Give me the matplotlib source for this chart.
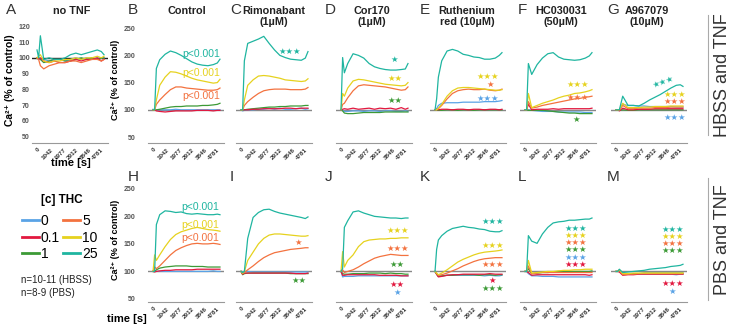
# THC concentration series, Ca2+ response (% of control), HBSS vs PBS with TNF
import matplotlib
matplotlib.use('Agg')
import matplotlib.pyplot as plt
import numpy as np

plt.rcParams['font.family'] = ['Liberation Sans', 'DejaVu Sans']

# time points (s)
time_s = [0, 120, 250, 500, 900, 1300, 1700, 2100, 2500, 2900, 3300, 3700, 4100, 4500, 4800, 5000]
tick_pos = [0, 1042, 1977, 2912, 3846, 4781]
tick_labels = ['0', '1042', '1977', '2912', '3846', '4781']

conc_labels = ['0', '0.1', '1', '5', '10', '25']
conc_colors = ['#5aa3e6', '#e2183f', '#3c9a36', '#f3723f', '#e6d21e', '#1fb5a0']

# rows in each panel: 0, 0.1, 1, 5, 10, 25 uM THC
no_tnf = [
    [100, 100, 99, 99, 98, 99, 99, 98, 99, 100, 99, 100, 99, 100, 100, 100],
    [100, 99, 100, 98, 97, 98, 97, 97, 98, 99, 98, 99, 99, 100, 98, 99],
    [100, 100, 99, 97, 98, 99, 99, 98, 98, 99, 100, 99, 100, 99, 100, 100],
    [100, 99, 95, 93, 95, 96, 97, 97, 98, 98, 97, 98, 99, 99, 98, 99],
    [100, 101, 102, 98, 97, 98, 98, 99, 99, 100, 99, 100, 100, 101, 100, 101],
    [105, 100, 114, 99, 100, 99, 99, 100, 102, 103, 102, 103, 104, 105, 104, 102],
]
hbss_control = [
    [101, 100, 99, 100, 100, 100, 101, 100, 100, 100, 100, 100, 100, 100, 100, 100],
    [100, 100, 98, 97, 96, 97, 98, 98, 98, 98, 99, 99, 99, 98, 99, 99],
    [100, 100, 100, 101, 103, 105, 106, 106, 107, 107, 107, 108, 108, 109, 110, 112],
    [100, 100, 110, 118, 128, 137, 142, 142, 140, 139, 138, 137, 136, 136, 137, 140],
    [100, 100, 118, 145, 160, 170, 169, 166, 162, 158, 155, 153, 151, 149, 150, 156],
    [100, 100, 176, 192, 202, 208, 205, 200, 194, 188, 184, 182, 181, 183, 186, 193],
]
hbss_rimonabant = [
    [100, 98, 99, 100, 100, 101, 101, 103, 101, 103, 101, 101, 102, 103, 101, 102],
    [100, 100, 100, 100, 101, 101, 102, 102, 102, 102, 103, 103, 102, 103, 103, 103],
    [100, 100, 100, 101, 102, 103, 104, 105, 105, 106, 106, 107, 107, 107, 108, 108],
    [100, 100, 108, 115, 123, 130, 135, 137, 138, 138, 138, 137, 137, 137, 138, 141],
    [100, 100, 118, 145, 155, 162, 163, 162, 160, 158, 155, 154, 153, 152, 153, 157],
    [100, 100, 190, 222, 226, 230, 235, 222, 210, 200, 196, 193, 192, 191, 195, 207],
]
hbss_cor170 = [
    [100, 99, 97, 97, 98, 98, 97, 98, 98, 97, 98, 98, 97, 97, 98, 97],
    [100, 101, 102, 101, 103, 101, 102, 103, 101, 103, 102, 103, 101, 104, 101, 103],
    [100, 98, 94, 93, 93, 94, 95, 95, 95, 95, 96, 96, 96, 96, 96, 96],
    [100, 110, 112, 122, 135, 144, 146, 145, 144, 143, 142, 140, 138, 136, 137, 142],
    [100, 130, 125, 140, 153, 156, 155, 153, 151, 149, 147, 146, 145, 144, 145, 150],
    [100, 196, 168, 185, 203, 200, 195, 185, 179, 176, 174, 173, 173, 174, 175, 185],
]
hbss_ruthenium = [
    [100, 102, 108, 112, 113, 113, 113, 114, 114, 114, 114, 115, 115, 115, 116, 117],
    [100, 101, 100, 101, 101, 100, 101, 101, 100, 101, 101, 100, 101, 101, 100, 101],
    [100, 100, 99, 99, 100, 100, 99, 100, 100, 99, 100, 100, 100, 100, 100, 100],
    [100, 100, 102, 108, 120, 130, 135, 137, 138, 137, 137, 138, 136, 135, 136, 138],
    [100, 100, 103, 110, 125, 135, 140, 141, 141, 140, 139, 138, 137, 136, 136, 137],
    [100, 120, 160, 190, 208, 211, 208, 202, 200, 197, 196, 193, 193, 195, 200, 205],
]
hbss_hc030031 = [
    [100, 100, 100, 99, 98, 97, 97, 97, 96, 96, 96, 96, 96, 95, 95, 95],
    [100, 100, 110, 100, 101, 101, 101, 102, 101, 102, 102, 102, 102, 102, 102, 103],
    [100, 100, 99, 99, 99, 99, 98, 97, 96, 95, 94, 94, 93, 93, 93, 93],
    [100, 100, 115, 103, 105, 108, 110, 112, 114, 116, 118, 120, 121, 123, 124, 125],
    [100, 100, 130, 104, 108, 112, 115, 118, 122, 125, 127, 130, 131, 133, 135, 137],
    [100, 100, 185, 165, 183, 195, 203, 205, 197, 193, 192, 191, 192, 195, 199, 205],
]
hbss_a967079 = [
    [100, 100, 100, 110, 108, 108, 107, 107, 106, 106, 106, 106, 106, 105, 105, 105],
    [100, 100, 98, 103, 100, 100, 101, 101, 101, 102, 102, 102, 102, 102, 102, 102],
    [100, 100, 99, 100, 99, 99, 100, 100, 100, 100, 100, 100, 100, 100, 100, 100],
    [100, 100, 100, 108, 102, 102, 103, 103, 103, 104, 104, 104, 105, 105, 105, 105],
    [100, 100, 100, 112, 104, 104, 104, 105, 105, 106, 106, 106, 107, 107, 107, 107],
    [100, 100, 100, 125, 108, 108, 107, 112, 118, 123, 128, 134, 140, 145, 146, 143],
]
pbs_control = [
    [100, 100, 100, 100, 100, 100, 100, 100, 100, 100, 100, 100, 100, 101, 100, 100],
    [100, 99, 100, 101, 102, 102, 103, 103, 103, 103, 104, 104, 104, 104, 104, 104],
    [100, 100, 103, 106, 108, 109, 110, 110, 110, 109, 109, 109, 108, 108, 108, 108],
    [100, 108, 105, 110, 120, 130, 138, 143, 147, 150, 151, 150, 150, 151, 150, 149],
    [100, 130, 120, 130, 145, 158, 167, 172, 175, 178, 180, 178, 176, 175, 174, 173],
    [100, 100, 185, 203, 210, 209, 207, 208, 205, 204, 205, 204, 203, 203, 204, 203],
]
pbs_rimonabant = [
    [100, 99, 100, 100, 99, 99, 99, 99, 99, 99, 99, 99, 99, 99, 99, 99],
    [100, 95, 97, 97, 97, 97, 97, 97, 97, 97, 97, 97, 96, 96, 96, 97],
    [100, 94, 96, 97, 97, 97, 97, 97, 97, 97, 97, 96, 96, 96, 96, 96],
    [100, 96, 98, 103, 110, 118, 125, 130, 134, 136, 138, 140, 141, 142, 143, 143],
    [100, 97, 100, 120, 135, 150, 160, 166, 168, 168, 167, 166, 165, 164, 164, 165],
    [100, 98, 100, 160, 198, 207, 212, 213, 209, 206, 204, 202, 200, 198, 196, 199],
]
pbs_cor170 = [
    [100, 90, 91, 91, 91, 92, 92, 92, 92, 92, 92, 92, 92, 92, 92, 92],
    [100, 93, 93, 94, 94, 94, 94, 94, 94, 93, 93, 93, 93, 92, 92, 92],
    [100, 96, 95, 95, 96, 96, 96, 97, 97, 97, 96, 97, 96, 96, 95, 95],
    [100, 103, 98, 100, 103, 108, 114, 119, 124, 127, 129, 131, 130, 129, 129, 129],
    [100, 136, 108, 120, 130, 145, 154, 157, 158, 159, 159, 160, 160, 161, 161, 161],
    [100, 105, 180, 192, 208, 210, 206, 203, 200, 199, 198, 197, 197, 196, 197, 197],
]
pbs_ruthenium = [
    [100, 95, 91, 92, 93, 93, 93, 93, 93, 93, 93, 92, 93, 92, 92, 93],
    [100, 95, 90, 91, 93, 94, 94, 95, 95, 95, 95, 95, 96, 95, 95, 95],
    [100, 95, 91, 92, 93, 93, 94, 94, 94, 94, 93, 94, 94, 93, 94, 94],
    [100, 96, 93, 94, 97, 101, 105, 110, 114, 118, 121, 123, 124, 125, 125, 125],
    [100, 97, 94, 97, 103, 110, 117, 122, 126, 130, 133, 135, 136, 137, 138, 139],
    [100, 140, 157, 165, 173, 178, 180, 182, 180, 179, 177, 176, 173, 172, 172, 174],
]
pbs_hc030031 = [
    [100, 100, 96, 92, 92, 91, 91, 91, 90, 90, 90, 90, 90, 90, 90, 90],
    [100, 100, 98, 93, 94, 94, 94, 94, 94, 94, 94, 94, 94, 94, 93, 94],
    [100, 100, 105, 96, 97, 98, 98, 99, 100, 100, 100, 100, 100, 100, 100, 101],
    [100, 100, 110, 96, 97, 98, 98, 98, 98, 98, 98, 98, 98, 98, 98, 98],
    [100, 100, 120, 97, 98, 99, 100, 100, 101, 102, 102, 103, 103, 104, 104, 104],
    [100, 100, 165, 155, 151, 168, 180, 188, 190, 191, 193, 193, 194, 195, 195, 197],
]
pbs_a967079 = [
    [100, 100, 100, 95, 95, 95, 95, 95, 95, 95, 95, 95, 95, 94, 95, 95],
    [100, 100, 99, 93, 94, 94, 95, 95, 95, 95, 95, 95, 95, 95, 95, 95],
    [100, 100, 101, 95, 96, 96, 96, 97, 97, 97, 97, 97, 97, 97, 97, 97],
    [100, 100, 102, 94, 95, 95, 96, 96, 96, 96, 96, 96, 96, 96, 96, 96],
    [100, 100, 103, 96, 96, 97, 97, 97, 97, 97, 97, 97, 97, 97, 97, 97],
    [100, 100, 104, 98, 99, 100, 101, 102, 104, 105, 106, 107, 109, 110, 111, 113],
]

# significance labels: (text, concentration index, time, value)
notes_b = [('p<0.001', 5, 3600, 203), ('p<0.001', 4, 3600, 167), ('p<0.001', 3, 3600, 125)]
notes_c = [('★★★', 5, 3600, 208)]
notes_d = [('★', 5, 4000, 192), ('★★', 4, 4000, 157), ('★★', 2, 4000, 117)]
notes_e = [('★★★', 4, 3900, 161), ('★', 3, 4100, 146), ('★★★', 0, 3900, 120)]
notes_f = [('★★★', 4, 3900, 146), ('★★★', 3, 3900, 123), ('★', 2, 3800, 83)]
notes_g = [('★★★', 5, 3500, 151), ('★★★', 4, 4400, 129), ('★★★', 3, 4400, 116), ('★★★', 0, 4400, 86)]
notes_h = [('p<0.001', 5, 3500, 217), ('p<0.001', 4, 3500, 185), ('p<0.001', 3, 3500, 161)]
notes_i = [('★', 3, 4300, 153), ('★★', 2, 4300, 84)]
notes_j = [('★★★', 4, 4200, 174), ('★★★', 3, 4200, 142), ('★★', 2, 4200, 112),
           ('★★', 1, 4200, 76), ('★', 0, 4200, 62)]
notes_k = [('★★★', 5, 4300, 190), ('★★★', 4, 4300, 148), ('★★★', 3, 4300, 112),
           ('★', 1, 4300, 83), ('★★★', 2, 4300, 69)]
notes_l = [('★★★', 5, 3800, 178), ('★★★', 4, 3800, 165), ('★★★', 3, 3800, 152),
           ('★★★', 2, 3800, 139), ('★★★', 0, 3800, 126), ('★★★', 1, 3800, 113)]
notes_m = [('★★★', 5, 4200, 177), ('★★★', 4, 4200, 164), ('★★★', 3, 4200, 151),
           ('★★★', 2, 4200, 138), ('★★★', 1, 4200, 78), ('★', 0, 4200, 64)]

top_titles = ['no TNF', 'Control', 'Rimonabant\n(1µM)', 'Cor170\n(1µM)',
              'Ruthenium\nred (10µM)', 'HC030031\n(50µM)', 'A967079\n(10µM)']

W, H = 735.0, 331.0
fig = plt.figure(figsize=(7.35, 3.31), dpi=100)


def px_axes(left, top, width, height):
    return fig.add_axes([left / W, 1 - (top + height) / H, width / W, height / H])


def draw_panel(ax, data, notes, ylim, yticks=None, ypad=2, ref_color='#888888'):
    t = np.array(time_s)
    ax.axhline(100, color=ref_color, lw=1.0, zorder=1)
    for i in [0, 2, 1, 3, 4, 5]:
        ax.plot(t, data[i], color=conc_colors[i], lw=0.9, zorder=2)
    for text, ci, x, y in notes:
        if text.startswith('p'):
            ax.text(x, y, text, color=conc_colors[ci], fontsize=7.5,
                    ha='center', va='center')
        else:
            rot = 20 if (notes is notes_g and ci == 5) else 0
            ax.text(x, y, text, color=conc_colors[ci], fontsize=6, ha='center',
                    va='center', family='DejaVu Sans', rotation=rot)
    ax.set_xlim(-375, 5300)
    ax.set_ylim(*ylim)
    for s in ['top', 'right', 'left']:
        ax.spines[s].set_visible(False)
    ax.spines['bottom'].set_color('#999999')
    ax.spines['bottom'].set_linewidth(0.8)
    ax.set_xticks(tick_pos)
    ax.set_xticklabels(tick_labels, rotation=45, ha='right', rotation_mode='anchor',
                       fontsize=4.5, fontweight='bold', color='#333333')
    ax.tick_params(axis='x', length=0, pad=3)
    if yticks is None:
        ax.set_yticks([])
    else:
        ax.set_yticks(yticks)
        ax.set_yticklabels([str(v) for v in yticks], fontsize=5, fontweight='bold',
                           color='#555555')
        ax.tick_params(axis='y', length=0, pad=ypad)
    ax.patch.set_alpha(0)


top_data = [no_tnf, hbss_control, hbss_rimonabant, hbss_cor170, hbss_ruthenium,
            hbss_hc030031, hbss_a967079]
top_notes = [[], notes_b, notes_c, notes_d, notes_e, notes_f, notes_g]
bottom_data = [pbs_control, pbs_rimonabant, pbs_cor170, pbs_ruthenium, pbs_hc030031, pbs_a967079]
bottom_notes = [notes_h, notes_i, notes_j, notes_k, notes_l, notes_m]

col_start = [37, 153, 241, 341, 435, 525, 616]
top_letters = ['A', 'B', 'C', 'D', 'E', 'F', 'G']
bottom_letters = ['H', 'I', 'J', 'K', 'L', 'M']
letter_x = [6, 128, 230, 325, 420, 518, 607]
title_x = [72, 187, 274, 372, 467, 561, 647]

# top row
for k in range(7):
    ax = px_axes(col_start[k] - 5, 20, 76, 123)
    if k == 0:
        draw_panel(ax, top_data[k], top_notes[k], (46, 124),
                   yticks=[50, 60, 70, 80, 90, 100, 110, 120], ypad=1.5, ref_color='#222222')
    elif k == 1:
        draw_panel(ax, top_data[k], top_notes[k], (39, 265),
                   yticks=[50, 100, 150, 200, 250], ypad=9)
    else:
        draw_panel(ax, top_data[k], top_notes[k], (39, 265))
    fig.text(letter_x[k] / W, 1 - 3 / H, top_letters[k], fontsize=11, va='top', color='#333333')
    fig.text(title_x[k] / W, 1 - 6 / H, top_titles[k], fontsize=7.8, fontweight='bold',
             ha='center', va='top', linespacing=1.15, color='#222222')

# bottom row
for k in range(6):
    ax = px_axes(col_start[k + 1] - 5, 180, 76, 122)
    if k == 0:
        draw_panel(ax, bottom_data[k], bottom_notes[k], (44.5, 266),
                   yticks=[50, 100, 150, 200, 250], ypad=9)
    else:
        draw_panel(ax, bottom_data[k], bottom_notes[k], (44.5, 266))
    fig.text(letter_x[k + 1] / W, 1 - 170 / H, bottom_letters[k], fontsize=11, va='top',
             color='#333333')

# axis labels
ylab = 'Ca²⁺ (% of control)'
fig.text(10 / W, 1 - 80 / H, ylab, rotation=90, fontsize=7.5, fontweight='bold',
         ha='center', va='center')
fig.text(116 / W, 1 - 80 / H, ylab, rotation=90, fontsize=6.5, fontweight='bold',
         ha='center', va='center')
fig.text(116 / W, 1 - 240 / H, ylab, rotation=90, fontsize=6.5, fontweight='bold',
         ha='center', va='center')
fig.text(71 / W, 1 - 163 / H, 'time [s]', fontsize=8, fontweight='bold', ha='center', va='center')
fig.text(127 / W, 1 - 319 / H, 'time [s]', fontsize=8, fontweight='bold', ha='center', va='center')

# legend
leg = fig.add_axes([0, 0, 1, 1])
leg.set_xlim(0, W)
leg.set_ylim(H, 0)
leg.axis('off')
leg.patch.set_alpha(0)
leg.text(62, 200, '[c] THC', fontsize=8.5, fontweight='bold', ha='center', va='center')
leg_x = [22, 22, 22, 63, 63, 63]
leg_y = [220, 237, 253, 220, 237, 253]
for i in range(6):
    leg.plot([leg_x[i], leg_x[i] + 17], [leg_y[i], leg_y[i]], color=conc_colors[i], lw=2)
    leg.text(leg_x[i] + 19, leg_y[i] + 1, conc_labels[i], fontsize=10, va='center')
leg.text(21, 280, 'n=10-11 (HBSS)', fontsize=7, va='center', color='#222222')
leg.text(21, 293, 'n=8-9 (PBS)', fontsize=7, va='center', color='#222222')

# row labels on the right
leg.plot([708, 708], [15, 135], color='#aaaaaa', lw=0.8)
leg.plot([708, 708], [178, 300], color='#aaaaaa', lw=0.8)
leg.text(723, 75, 'HBSS and TNF', rotation=90, fontsize=13, ha='center', va='center', color='#333333')
leg.text(723, 240, 'PBS and TNF', rotation=90, fontsize=13, ha='center', va='center', color='#333333')

fig.savefig('out.png', dpi=100)
